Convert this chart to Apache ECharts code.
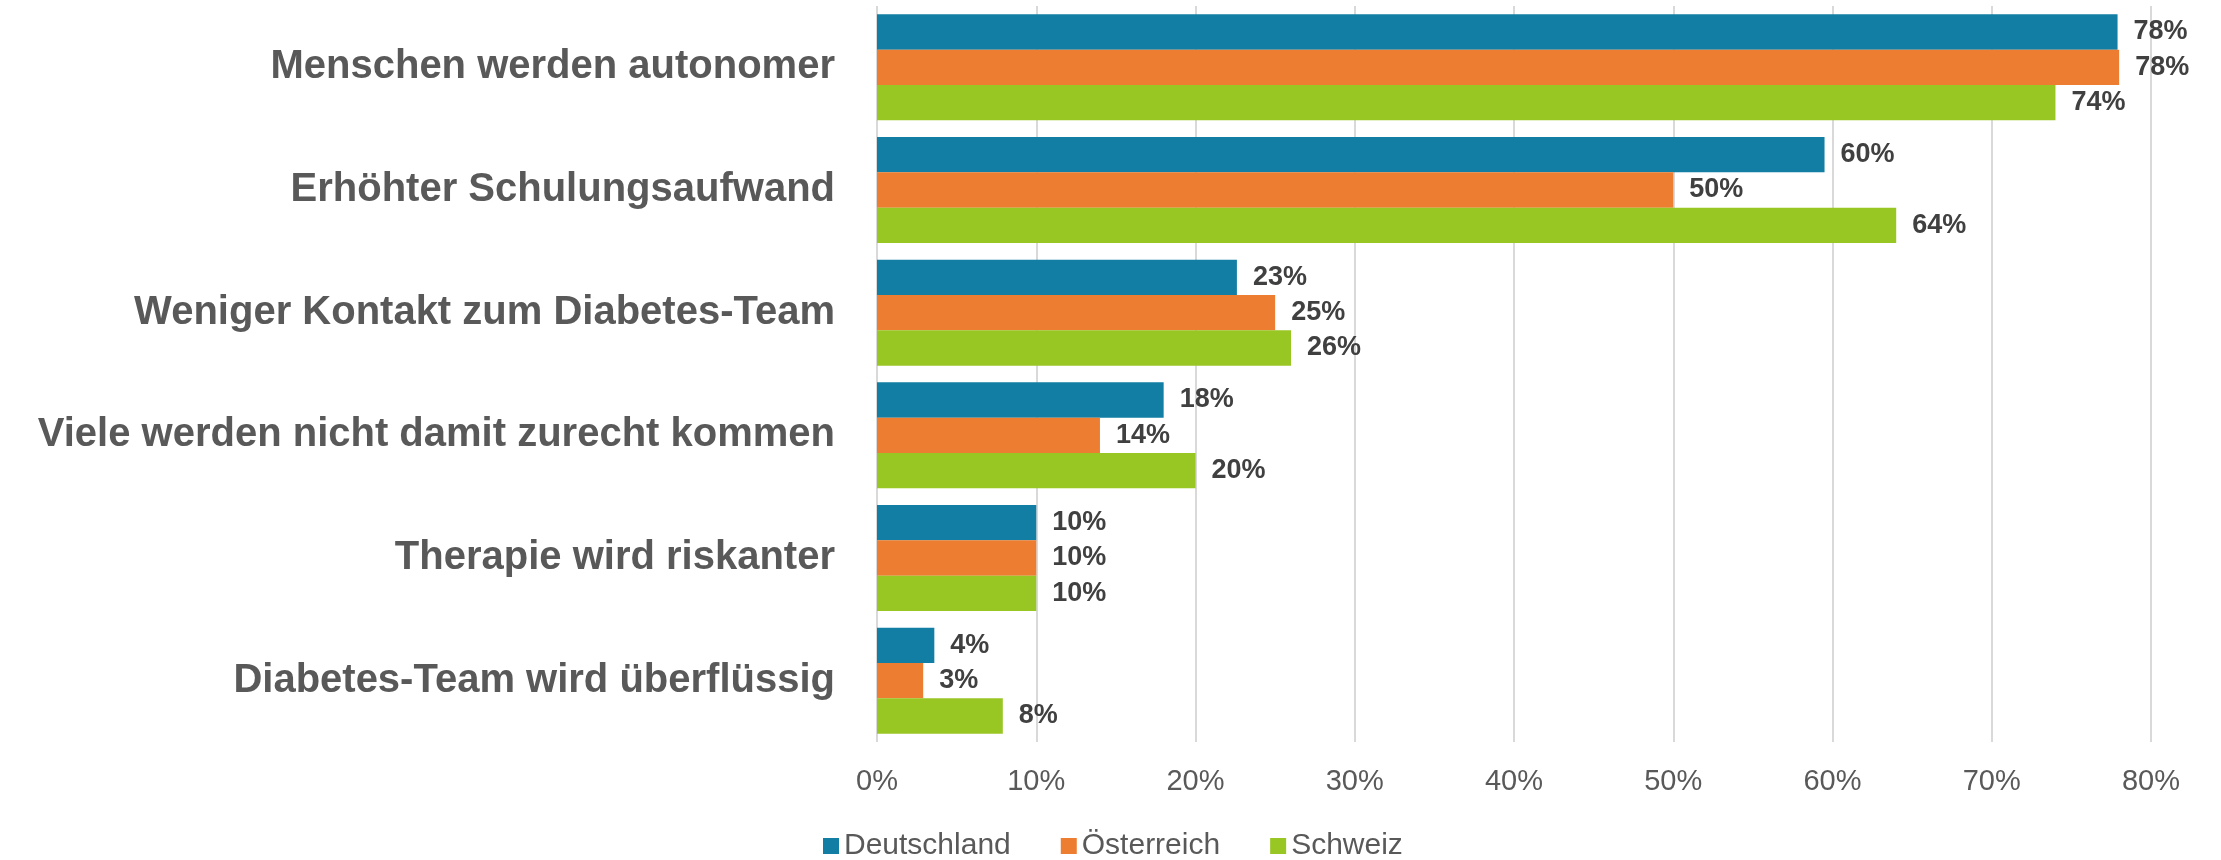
<!DOCTYPE html>
<html>
<head>
<meta charset="utf-8">
<script src="https://cdn.jsdelivr.net/npm/echarts@6/dist/echarts.min.js"></script>
<style>
  html, body { margin: 0; padding: 0; background: #ffffff; }
  #chart { width: 2221px; height: 860px; }
</style>
</head>
<body>
<div id="chart"></div>
<script>
const categories = [
  "Menschen werden autonomer",
  "Erhöhter Schulungsaufwand",
  "Weniger Kontakt zum Diabetes-Team",
  "Viele werden nicht damit zurecht kommen",
  "Therapie wird riskanter",
  "Diabetes-Team wird überflüssig"
];
const seriesNames = ["Deutschland", "Österreich", "Schweiz"];
const deutschland = [77.9, 59.5, 22.6, 18, 10, 3.6];
const oesterreich = [78, 50, 25, 14, 10, 2.9];
const schweiz = [74, 64, 26, 20, 10, 7.9];
const xTicks = [0, 10, 20, 30, 40, 50, 60, 70, 80];
const colors = ["#127ea3", "#ed7d31", "#98c623"];

const FONT = "'Liberation Sans', Arial, sans-serif";
const values = [deutschland, oesterreich, schweiz];

const chart = echarts.init(document.getElementById('chart'), null, { renderer: 'canvas' });

const series = seriesNames.map((name, i) => ({
  name: name,
  type: 'bar',
  data: values[i],
  barGap: '0%',
  barCategoryGap: '13.6%',
  itemStyle: { color: colors[i] },
  label: {
    show: true,
    position: 'right',
    distance: 16,
    formatter: p => Math.round(p.value) + '%',
    color: '#404040',
    fontWeight: 'bold',
    fontSize: 27,
    fontFamily: FONT
  },
  emphasis: { disabled: true },
  animation: false
}));

chart.setOption({
  animation: false,
  color: colors,
  grid: { left: 877, right: 70, top: 6, bottom: 118, containLabel: false },
  legend: {
    data: seriesNames,
    left: 818,
    top: 826,
    itemWidth: 16,
    itemHeight: 16,
    itemGap: 50,
    icon: 'rect',
    textStyle: { color: '#595959', fontSize: 30, fontFamily: FONT }
  },
  xAxis: {
    type: 'value',
    min: xTicks[0],
    max: xTicks[xTicks.length - 1],
    interval: xTicks[1] - xTicks[0],
    axisLine: { show: false },
    axisTick: { show: false },
    splitLine: { show: true, lineStyle: { color: '#d9d9d9', width: 2 } },
    axisLabel: {
      formatter: v => v + '%',
      color: '#595959',
      fontSize: 29,
      fontFamily: FONT,
      margin: 25
    }
  },
  yAxis: {
    type: 'category',
    data: categories,
    inverse: true,
    axisLine: { show: false },
    axisTick: { show: false },
    axisLabel: {
      color: '#595959',
      fontWeight: 'bold',
      fontSize: 40,
      fontFamily: FONT,
      margin: 42
    }
  },
  series: series
});
</script>
</body>
</html>
